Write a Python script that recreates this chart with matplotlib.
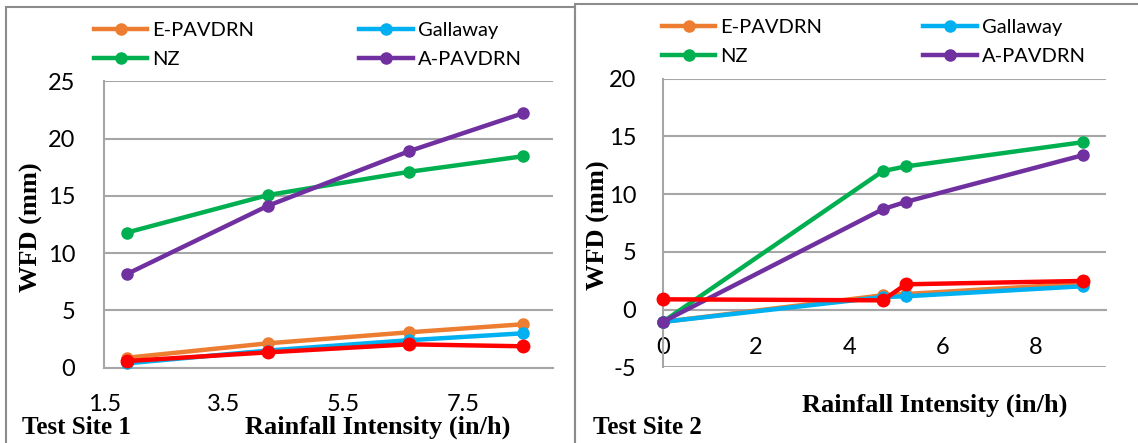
import matplotlib
matplotlib.use('Agg')
import matplotlib.pyplot as plt
from matplotlib.patches import Rectangle

# Test site 1
x1 = [1.88, 4.24, 6.60, 8.50]
e_pav1 = [0.87, 2.13, 3.09, 3.79]
gall1 = [0.38, 1.50, 2.40, 3.00]
nz1 = [11.8, 15.07, 17.1, 18.45]
a_pav1 = [8.18, 14.14, 18.9, 22.2]
meas1 = [0.58, 1.34, 2.04, 1.87]

# Test site 2
x2 = [0.0, 4.72, 5.21, 9.0]
e_pav2 = [-1.07, 1.24, 1.35, 2.25]
gall2 = [-1.07, 1.09, 1.15, 2.02]
nz2 = [-1.07, 12.0, 12.4, 14.5]
a_pav2 = [-1.07, 8.7, 9.33, 13.37]
meas2 = [0.89, 0.80, 2.19, 2.48]

names = ['E-PAVDRN', 'Gallaway', 'NZ', 'A-PAVDRN']
colors = ['#ED7D31', '#00B0F0', '#00B050', '#7030A0']
red = '#FF0000'
grid_c = '#A6A6A6'

tick_font = 'Lato'
label_font = 'Liberation Serif'
W, H = 1138, 443

fig = plt.figure(figsize=(W / 100, H / 100), dpi=100)

# panel borders
fig.patches.append(Rectangle((6/W, -0.1), (575-6)/W, 1.1 - 6.7/H, transform=fig.transFigure,
                             fill=False, edgecolor='#8C8C8C', lw=1.5))
fig.patches.append(Rectangle((575/W, -0.1), 0.5, 1.1 - 3.7/H, transform=fig.transFigure,
                             fill=False, edgecolor='#8C8C8C', lw=1.5))

ax1 = fig.add_axes([104.3/W, 1-367.7/H, (552.5-104.3)/W, (367.7-81.3)/H])
ax2 = fig.add_axes([662.7/W, 1-367.3/H, (1106-662.7)/W, (367.3-78.7)/H])


def draw(ax, x, series, meas, leg_x, leg_y, colsp):
    lines = []
    for ys, name, c in zip(series, names, colors):
        ln, = ax.plot(x, ys, color=c, lw=3.2, marker='o', ms=8, label=name, clip_on=False, zorder=3)
        lines.append(ln)
    ax.plot(x, meas, color=red, lw=3.2, marker='o', ms=9, clip_on=False, zorder=4)
    ax.grid(axis='y', color=grid_c, lw=1.5)
    ax.set_axisbelow(True)
    for s in ['top', 'right']:
        ax.spines[s].set_visible(False)
    for s in ['left', 'bottom']:
        ax.spines[s].set_color(grid_c)
        ax.spines[s].set_linewidth(1.5)
    ax.tick_params(length=0, labelsize=17)
    # legend filled column-wise: E, NZ | Gallaway, A
    order = [0, 2, 1, 3]
    fig.legend([lines[i] for i in order], [names[i] for i in order],
               loc='lower left', bbox_to_anchor=(leg_x / W, 1 - leg_y / H),
               bbox_transform=fig.transFigure, ncol=2, frameon=False,
               prop={'family': tick_font, 'size': 14.5}, handlelength=2.65, handletextpad=0.25,
               columnspacing=colsp, labelspacing=0.6, borderaxespad=0)


draw(ax1, x1, [e_pav1, gall1, nz1, a_pav1], meas1, 86, 76, 5.2)
ax1.set_xlim(1.5, 9.0)
ax1.set_ylim(0, 25)
ax1.set_xticks([1.5, 3.5, 5.5, 7.5])
ax1.set_xticklabels(['1.5', '3.5', '5.5', '7.5'], family=tick_font)
ax1.set_yticks([0, 5, 10, 15, 20, 25])
ax1.set_yticklabels(['0', '5', '10', '15', '20', '25'], family=tick_font)
ax1.tick_params(axis='x', pad=19)
ax1.tick_params(axis='y', pad=21)

draw(ax2, x2, [e_pav2, gall2, nz2, a_pav2], meas2, 654, 73, 5.0)
ax2.set_xlim(0, 9.5)
ax2.set_ylim(-5, 20)
ax2.spines['bottom'].set_position(('data', 0))
ax2.set_xticks([0, 2, 4, 6, 8])
ax2.set_xticklabels(['0', '2', '4', '6', '8'], family=tick_font)
ax2.set_yticks([-5, 0, 5, 10, 15, 20])
ax2.set_yticklabels(['-5', '0', '5', '10', '15', '20'], family=tick_font)
ax2.tick_params(axis='x', pad=19.5)
ax2.tick_params(axis='y', pad=19)

lab = dict(family=label_font, weight='bold', fontsize=19)
fig.text(31/W, 1-227/H, 'WFD (mm)', rotation=90, ha='center', va='center', **lab)
fig.text(598/W, 1-225/H, 'WFD (mm)', rotation=90, ha='center', va='center', **lab)
fig.text(378/W, 1-427/H, 'Rainfall Intensity (in/h)', ha='center', va='center', **lab)
fig.text(935/W, 1-405/H, 'Rainfall Intensity (in/h)', ha='center', va='center', **lab)
fig.text(22/W, 1-427/H, 'Test Site 1', ha='left', va='center', family=label_font,
         weight='bold', fontsize=18)
fig.text(593/W, 1-427/H, 'Test Site 2', ha='left', va='center', family=label_font,
         weight='bold', fontsize=18)

fig.savefig('out.png', dpi=100)
